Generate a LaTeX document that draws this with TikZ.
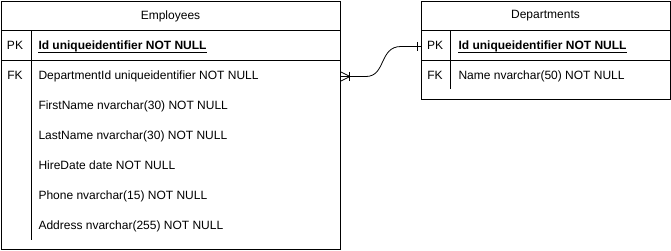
\documentclass[tikz,border=0pt]{standalone}
\usepackage{fontspec}
\setmainfont{Liberation Sans}
\usetikzlibrary{calc}
\begin{document}
\begin{tikzpicture}[x=1pt,y=-1pt,line width=1pt,
  every node/.style={font=\fontsize{12}{14}\selectfont},
  table/.style={draw,rectangle,anchor=north west,inner sep=0pt},
  keycell/.style={anchor=base,inner sep=0pt},
  fieldcell/.style={anchor=base west,inner sep=0pt},
  rowarea/.style={rectangle,inner sep=0pt,minimum height=30pt,anchor=north west},
  relation/.style={draw,line width=0.8pt},
  pkline/.style={line width=0.8pt}]
\useasboundingbox (0,0) rectangle (671,251);

% Employees table
\node[table,minimum width=339pt,minimum height=248pt] (emp) at (1,1) {};
\node (emptitle) at (170.5,16) {Employees};
\draw (1,31) -- (340,31);
\draw (1,61) -- (340,61);
\draw (31,31) -- (31,240);
\node[rowarea,minimum width=339pt] (emppk) at (1,31) {};
\node[rowarea,minimum width=339pt] (empfk) at (1,61) {};
\node[keycell] (emppkkey) at (15,49.5) {PK};
\node[fieldcell] (emppkfield) at (38,49.5) {\textbf{Id uniqueidentifier NOT NULL}};
\draw[pkline] ($(emppkfield.base west)+(0,2.5)$) -- ($(emppkfield.base east)+(0,2.5)$);
\node[keycell] (empfkkey) at (15,79.5) {FK};
\node[fieldcell] (f1) at (38,79.5) {DepartmentId uniqueidentifier NOT NULL};
\node[fieldcell] (f2) at (38,109.5) {FirstName nvarchar(30) NOT NULL};
\node[fieldcell] (f3) at (38,139.5) {LastName nvarchar(30) NOT NULL};
\node[fieldcell] (f4) at (38,169.5) {HireDate date NOT NULL};
\node[fieldcell] (f5) at (38,199.5) {Phone nvarchar(15) NOT NULL};
\node[fieldcell] (f6) at (38,229.5) {Address nvarchar(255) NOT NULL};

% Departments table
\node[table,minimum width=249pt,minimum height=98pt] (dep) at (421,1) {};
\node (deptitle) at (545.5,16) {Departments};
\draw (421,31) -- (670,31);
\draw (421,61) -- (670,61);
\draw (450,31) -- (450,89);
\node[rowarea,minimum width=249pt] (deppk) at (421,31) {};
\node[keycell] (deppkkey) at (435,49.5) {PK};
\node[fieldcell] (deppkfield) at (458,49.5) {\textbf{Id uniqueidentifier NOT NULL}};
\draw[pkline] ($(deppkfield.base west)+(0,2.5)$) -- ($(deppkfield.base east)+(0,2.5)$);
\node[keycell] (depfkkey) at (435,79.5) {FK};
\node[fieldcell] (d1) at (458,79.5) {Name nvarchar(50) NOT NULL};

% Relationship: many employees to one department
\draw[relation] (empfk.east) -- ++(25,0)
  .. controls +(20,0) and ($(deppk.west)+(-42,0)$) .. ($(deppk.west)+(-20,0)$)
  -- (deppk.west);
% crow's foot at the Employees end
\draw[relation] ($(empfk.east)+(0,-4.5)$) -- ($(empfk.east)+(9,0)$)
  -- ($(empfk.east)+(0,4.5)$);
\draw[relation] ($(empfk.east)+(8,-4.5)$) -- ($(empfk.east)+(8,4.5)$);
% single bar at the Departments end
\draw[relation] ($(deppk.west)+(-4,-4.5)$) -- ($(deppk.west)+(-4,4.5)$);
\end{tikzpicture}
\end{document}
